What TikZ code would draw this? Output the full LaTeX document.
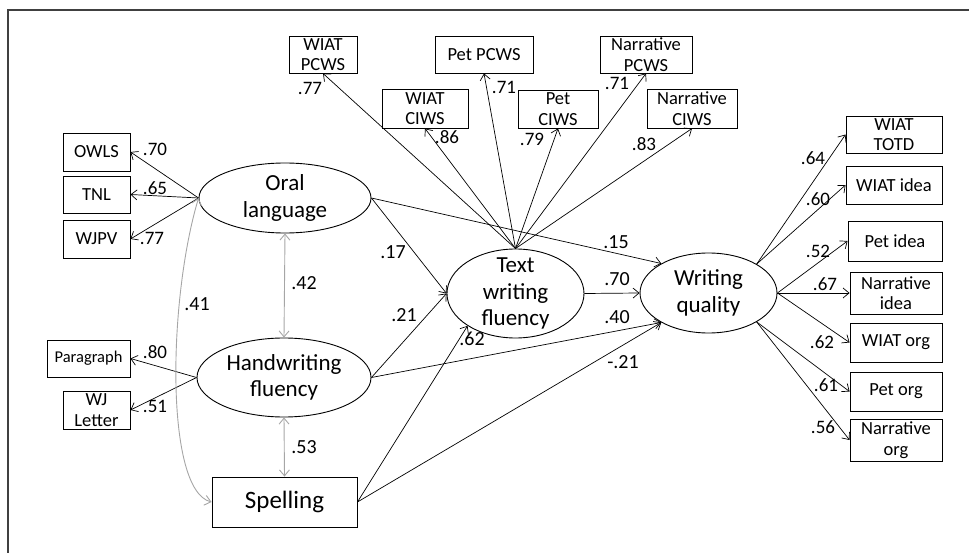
\documentclass[tikz,border=0pt]{standalone}
\usepackage{fontspec}
\setmainfont{Carlito}
\usetikzlibrary{shapes.geometric,arrows.meta}
\tikzset{
  obs/.style={draw, line width=0.9pt, inner sep=0pt, align=center, font=\fontsize{18.5}{20.5}\selectfont},
  lat/.style={draw, ellipse, line width=0.9pt, inner sep=0pt},
  lattext/.style={align=center, inner sep=0pt, font=\fontsize{23}{26.5}\selectfont},
  arr/.style={-{Straight Barb[length=6pt,width=10pt]}, line width=0.7pt},
  cor/.style={{Straight Barb[length=6pt,width=10pt]}-{Straight Barb[length=6pt,width=10pt]}, line width=0.9pt, draw=black!35},
  coef/.style={font=\fontsize{20}{22}\selectfont, inner sep=0pt},
  load/.style={font=\fontsize{19}{21}\selectfont, inner sep=0pt},
}
\begin{document}
\begin{tikzpicture}[x=1pt,y=-1pt]
\useasboundingbox (0,0) rectangle (969,553);
\draw[line width=1.3pt, draw=black!75] (8,553) -- (8,10) -- (969,10);

% latent variables
\node[lat, minimum width=172pt, minimum height=70pt, label={[lattext]center:Oral\\language}] (oral) at (285,198) {};
\node[lat, minimum width=174pt, minimum height=79pt, label={[lattext]center:Handwriting\\fluency}] (hw) at (284,377.5) {};
\node[lat, minimum width=137pt, minimum height=89pt, label={[lattext]center:Text\\writing\\fluency}] (txt) at (515.5,293.5) {};
\node[lat, minimum width=137pt, minimum height=80pt, label={[lattext]center:Writing\\quality}] (wq) at (708.5,293) {};
\node[obs, minimum width=145pt, minimum height=50pt, font=\fontsize{25}{28}\selectfont] (sp) at (284.5,502) {Spelling};

% oral language indicators
\node[obs, minimum width=67pt, minimum height=38pt] (owls) at (96.5,152) {OWLS};
\node[obs, minimum width=67pt, minimum height=37pt] (tnl) at (96.5,194.5) {TNL};
\node[obs, minimum width=67pt, minimum height=38pt] (wjpv) at (96.5,239) {WJPV};
% handwriting indicators
\node[obs, minimum width=83pt, minimum height=37pt, font=\fontsize{16.5}{19}\selectfont] (para) at (88.5,358.5) {Paragraph};
\node[obs, minimum width=67pt, minimum height=38pt] (wjl) at (96.5,410) {WJ\\Letter};

% text writing fluency indicators
\node[obs, minimum width=68pt, minimum height=37pt] (wpcws) at (323,54.5) {WIAT\\PCWS};
\node[obs, minimum width=98pt, minimum height=37pt] (ppcws) at (484,54.5) {Pet PCWS};
\node[obs, minimum width=92pt, minimum height=37pt] (npcws) at (646,54.5) {Narrative\\PCWS};
\node[obs, minimum width=86pt, minimum height=39pt] (wciws) at (425,108.5) {WIAT\\CIWS};
\node[obs, minimum width=80pt, minimum height=38pt] (pciws) at (558,109) {Pet\\CIWS};
\node[obs, minimum width=90pt, minimum height=39pt] (nciws) at (692,108.5) {Narrative\\CIWS};

% writing quality indicators
\node[obs, minimum width=96pt, minimum height=37pt] (wtotd) at (894,134.5) {WIAT\\TOTD};
\node[obs, minimum width=96pt, minimum height=38pt] (widea) at (894,185) {WIAT idea};
\node[obs, minimum width=94pt, minimum height=40pt] (pidea) at (895,241) {Pet idea};
\node[obs, minimum width=92pt, minimum height=42pt] (nidea) at (896,293) {Narrative\\idea};
\node[obs, minimum width=92pt, minimum height=39pt] (worg) at (896,342.5) {WIAT org};
\node[obs, minimum width=92pt, minimum height=39pt] (porg) at (896,391.5) {Pet org};
\node[obs, minimum width=92pt, minimum height=42pt] (norg) at (896,440) {Narrative\\org};

% loadings
\draw[arr] (oral.west) -- (owls.east);
\draw[arr] (oral.west) -- (tnl.east);
\draw[arr] (oral.west) -- (wjpv.east);
\draw[arr] (hw.west) -- (para.east);
\draw[arr] (hw.west) -- (wjl.east);
\draw[arr] (txt.north) -- (wpcws.south);
\draw[arr] (txt.north) -- (wciws.south);
\draw[arr] (txt.north) -- (ppcws.south);
\draw[arr] (txt.north) -- (pciws.south);
\draw[arr] (txt.north) -- (npcws.south);
\draw[arr] (txt.north) -- (nciws.south);
\draw[arr] (wq.31) -- (wtotd.west);
\draw[arr] (wq.31) -- (widea.west);
\draw[arr] (wq.east) -- (pidea.west);
\draw[arr] (wq.east) -- (nidea.west);
\draw[arr] (wq.east) -- (worg.west);
\draw[arr] (wq.-31) -- (porg.west);
\draw[arr] (wq.-31) -- (norg.west);

% structural paths
\draw[arr] (oral.east) -- (txt.west);
\draw[arr] (oral.east) -- (wq.148);
\draw[arr] (hw.east) -- (txt.west);
\draw[arr] (hw.east) -- (wq.212);
\draw[arr] (sp.east) -- (txt.214);
\draw[arr] (sp.east) -- (wq.212);
\draw[arr] (txt.east) -- (wq.west);

% correlations
\draw[cor] (oral.south) -- (hw.north);
\draw[cor] (hw.south) -- (sp.north);
\draw[cor] (oral.west) .. controls (168,300) and (165,490) .. (sp.west);

% loading labels
\node[load] (l1) at (155,149) {.70};
\node[load] (l2) at (155,188) {.65};
\node[load] (l3) at (152,238) {.77};
\node[load] (l4) at (155,352) {.80};
\node[load] (l5) at (155,406) {.51};
\node[load] (l6) at (310,88) {.77};
\node[load] (l7) at (447,137) {.86};
\node[load] (l8) at (504,87) {.71};
\node[load] (l9) at (532,139) {.79};
\node[load] (l10) at (617,83) {.71};
\node[load] (l11) at (644,144) {.83};
\node[load] (l12) at (813,158) {.64};
\node[load] (l13) at (818,199) {.60};
\node[load] (l14) at (818,251) {.52};
\node[load] (l15) at (825,284) {.67};
\node[load] (l16) at (822,342) {.62};
\node[load] (l17) at (826,385) {.61};
\node[load] (l18) at (823,427) {.56};

% path labels
\node[coef] (c1) at (393,252) {.17};
\node[coef] (c2) at (404,315) {.21};
\node[coef] (c3) at (472,339) {.62};
\node[coef] (c4) at (616,242) {.15};
\node[coef] (c5) at (617,279) {.70};
\node[coef] (c6) at (617,317) {.40};
\node[coef] (c7) at (623,362) {-.21};
\node[coef] (c8) at (304,283) {.42};
\node[coef] (c9) at (197,304) {.41};
\node[coef] (c10) at (304,447) {.53};
\end{tikzpicture}
\end{document}
